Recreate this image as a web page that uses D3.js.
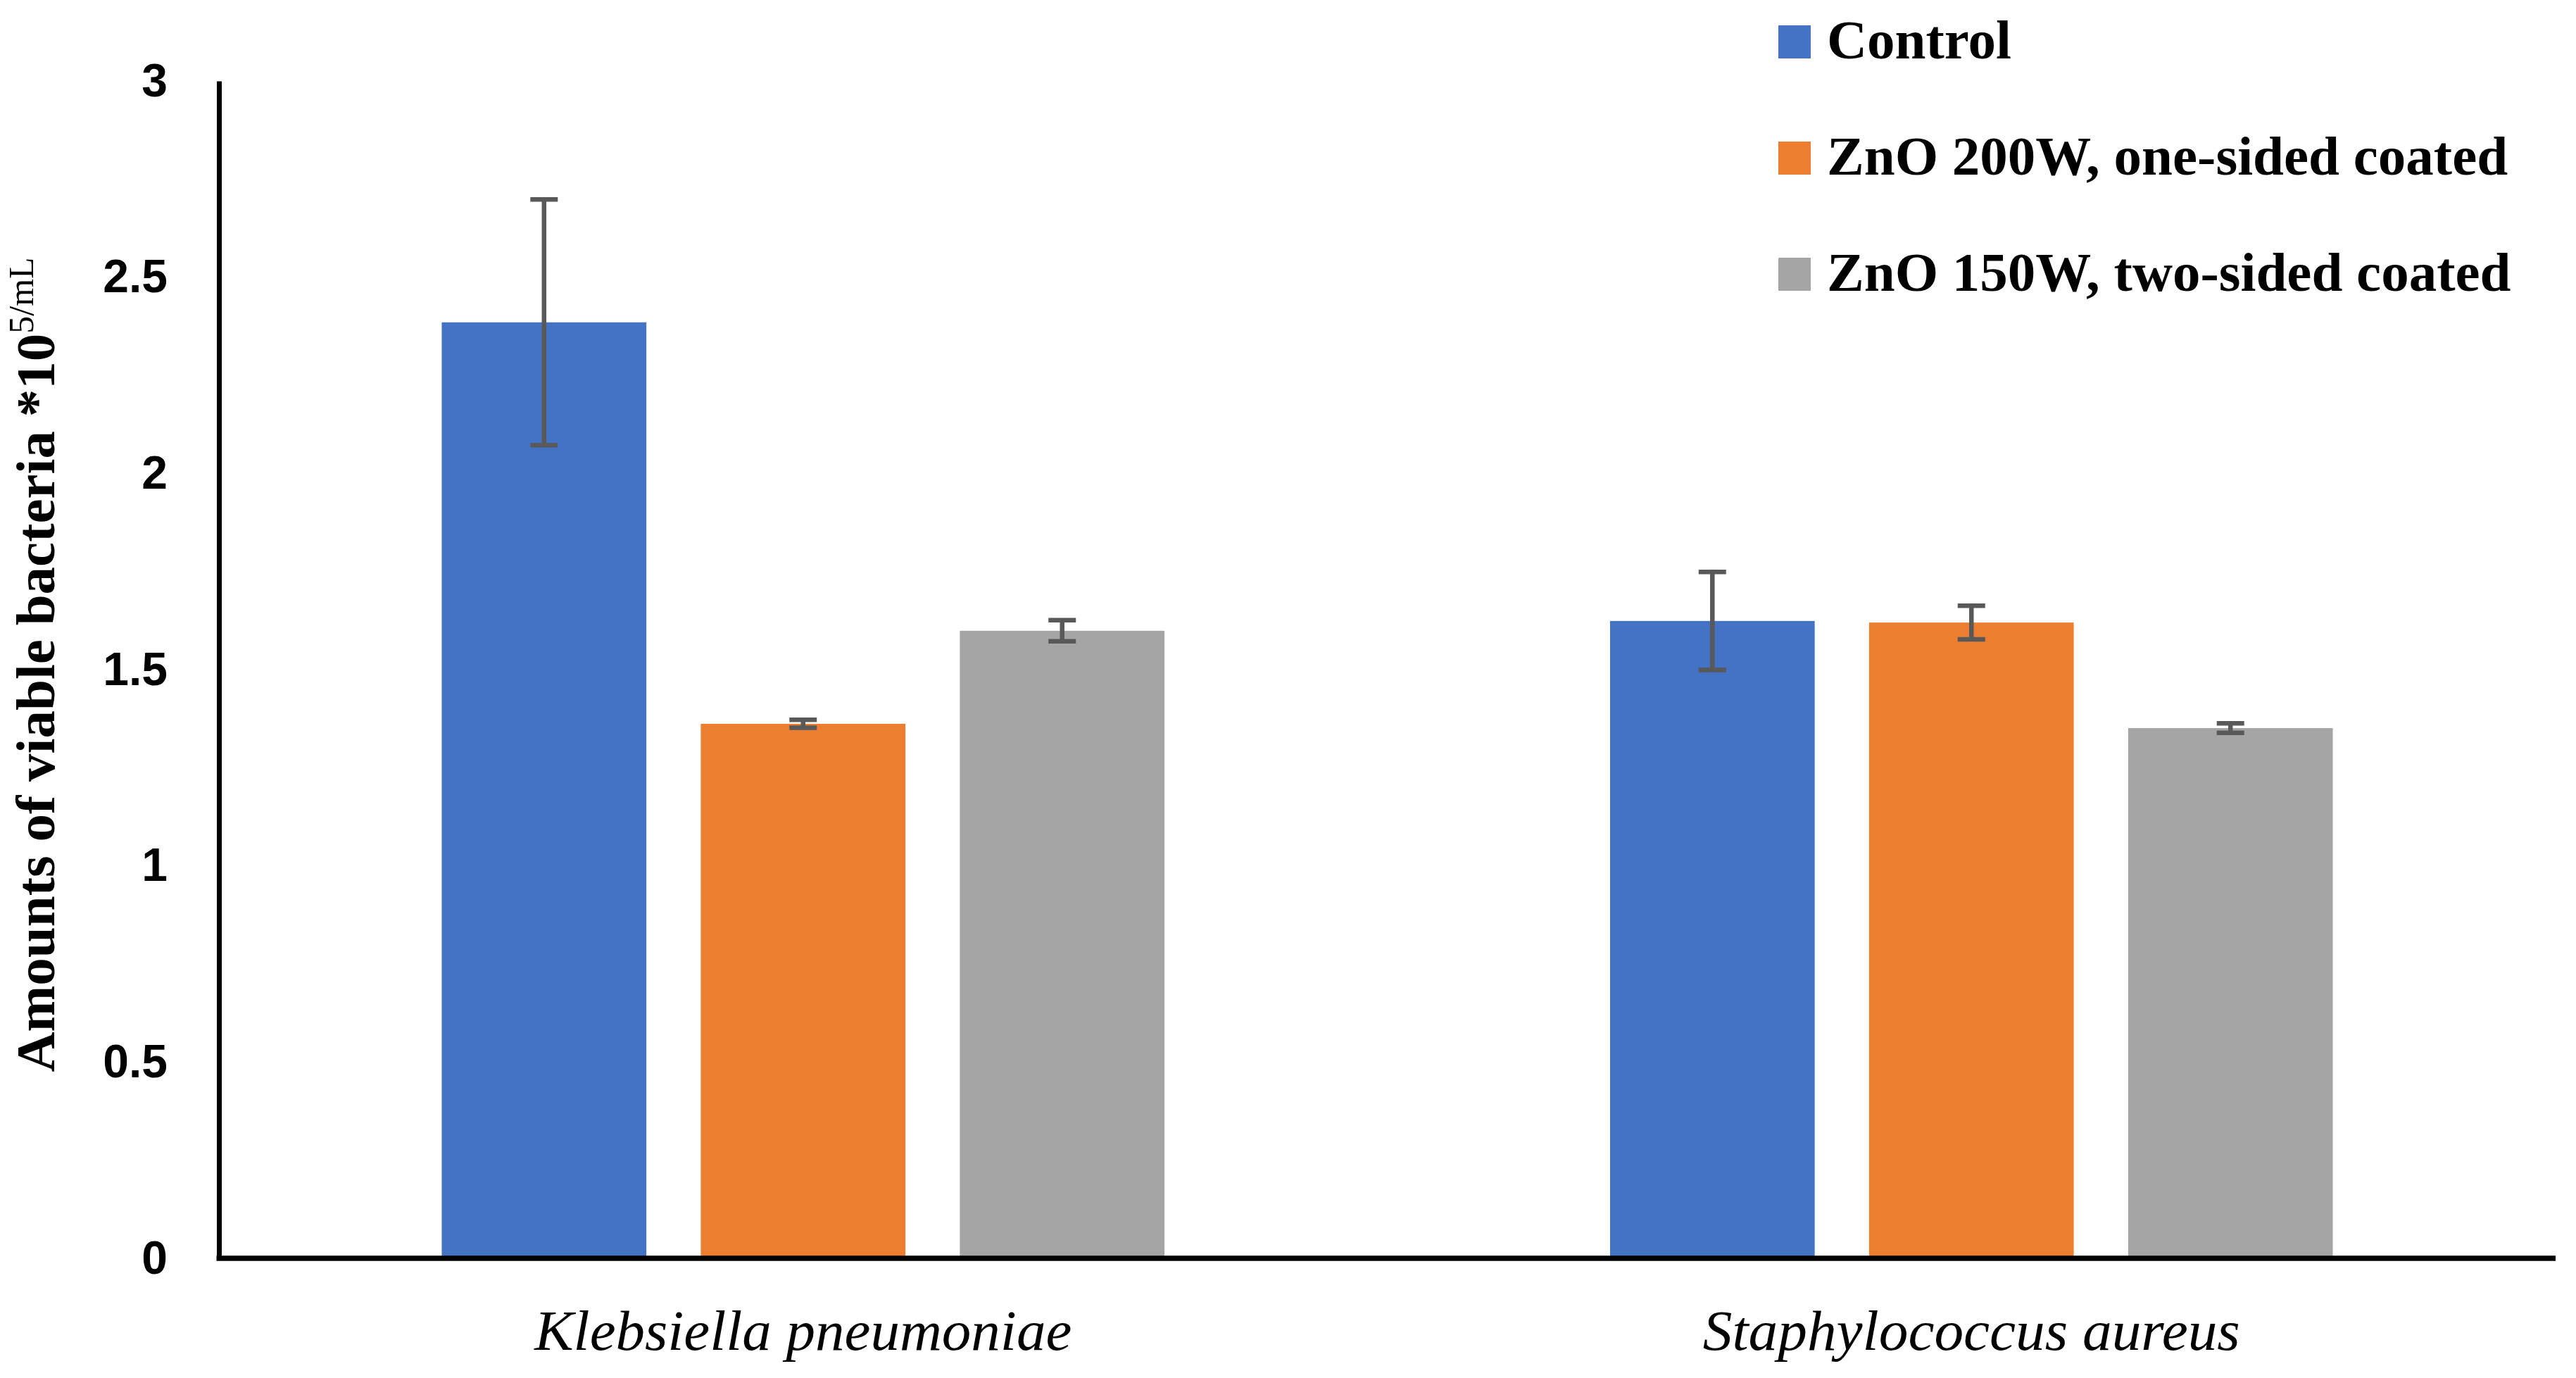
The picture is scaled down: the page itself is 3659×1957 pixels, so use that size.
<!DOCTYPE html>
<html>
<head>
<title>viable bacteria</title>
<script type="text/javascript" src="https://cdn.jsdelivr.net/npm/d3@7"></script>
<style>
body { margin: 0; background: #fff; }
</style>
</head>
<body>
<svg width="3659" height="1957"></svg>
<script type="text/javascript">

var categories = ["Klebsiella pneumoniae", "Staphylococcus aureus"];
var series = ["Control", "ZnO 200W, one-sided coated", "ZnO 150W, two-sided coated"];
var colors = ["#4472C4", "#ED7D31", "#A5A5A5"];
// values per series, one per category
var values = [
  [2.385, 1.624],
  [1.362, 1.620],
  [1.599, 1.351]
];
var errors = [
  [0.313, 0.125],
  [0.010, 0.043],
  [0.027, 0.012]
];
var yTicks = [0, 0.5, 1, 1.5, 2, 2.5, 3];

var svg = d3.select("svg");

var y = d3.scaleLinear().domain([0, 3]).range([1787, 115]);
var x0 = d3.scaleBand().domain(categories).range([311, 3630]);
var x1 = d3.scaleBand().domain(series).range([0, x0.bandwidth()])
  .paddingInner(0.21).paddingOuter(0.86);

var rows = [];
series.forEach(function(s, i) {
  categories.forEach(function(c, j) {
    rows.push({cat: c, ser: s, v: values[i][j], e: errors[i][j], col: colors[i]});
  });
});

// bars
svg.append("g").selectAll("rect")
  .data(rows)
  .enter()
  .append("rect")
  .attr("x", function(d) { return x0(d.cat) + x1(d.ser); })
  .attr("y", function(d) { return y(d.v); })
  .attr("width", x1.bandwidth())
  .attr("height", function(d) { return y(0) - y(d.v); })
  .attr("fill", function(d) { return d.col; });

// error bars
var eb = svg.append("g").attr("stroke", "#595959").attr("stroke-width", 6.5);
rows.forEach(function(d) {
  var cx = x0(d.cat) + x1(d.ser) + x1.bandwidth() / 2;
  eb.append("line").attr("x1", cx).attr("x2", cx)
    .attr("y1", y(d.v + d.e)).attr("y2", y(d.v - d.e));
  eb.append("line").attr("x1", cx - 19.5).attr("x2", cx + 19.5)
    .attr("y1", y(d.v + d.e)).attr("y2", y(d.v + d.e));
  eb.append("line").attr("x1", cx - 19.5).attr("x2", cx + 19.5)
    .attr("y1", y(d.v - d.e)).attr("y2", y(d.v - d.e));
});

// y axis
var yAxis = svg.append("g")
  .attr("transform", "translate(311,0)")
  .call(d3.axisLeft(y).tickValues(yTicks).tickSize(0).tickPadding(73)
    .tickFormat(function(d) { return d; }));
yAxis.select(".domain").attr("stroke", "#000").attr("stroke-width", 7);
yAxis.selectAll("text")
  .attr("font-family", "'Liberation Sans', Arial, sans-serif")
  .attr("font-weight", "bold")
  .attr("font-size", 66)
  .attr("fill", "#000");

// x axis
var xAxis = svg.append("g")
  .attr("transform", "translate(0,1787)")
  .call(d3.axisBottom(x0).tickSize(0));
xAxis.select(".domain").attr("stroke", "#000").attr("stroke-width", 7.5)
  .attr("d", "M307.5,0H3630");
xAxis.selectAll("text")
  .attr("y", 130)
  .attr("dy", 0)
  .attr("font-family", "'Liberation Serif', 'Times New Roman', serif")
  .attr("font-style", "italic")
  .attr("font-size", 80)
  .attr("fill", "#000")
  .attr("textLength", 763)
  .attr("lengthAdjust", "spacingAndGlyphs");

// y axis title
var yt = svg.append("text")
  .attr("transform", "translate(77,944) rotate(-90)")
  .attr("text-anchor", "middle")
  .attr("font-family", "'Liberation Serif', 'Times New Roman', serif")
  .attr("font-weight", "bold")
  .attr("font-size", 79)
  .attr("fill", "#000");
yt.append("tspan").text("Amounts of viable bacteria *10");
yt.append("tspan").attr("font-size", 50).attr("font-weight", "normal")
  .attr("dy", -30).text("5/mL");

// legend
var leg = svg.append("g").selectAll("g")
  .data(series)
  .enter()
  .append("g")
  .attr("transform", function(d, i) { return "translate(2526," + (83 + i * 165) + ")"; });
leg.append("rect")
  .attr("x", 0).attr("y", -47)
  .attr("width", 46).attr("height", 47)
  .attr("fill", function(d, i) { return colors[i]; });
leg.append("text")
  .attr("x", 69).attr("y", 0)
  .attr("font-family", "'Liberation Serif', 'Times New Roman', serif")
  .attr("font-weight", "bold")
  .attr("font-size", 79)
  .attr("fill", "#000")
  .text(function(d) { return d; });

</script>
</body>
</html>
